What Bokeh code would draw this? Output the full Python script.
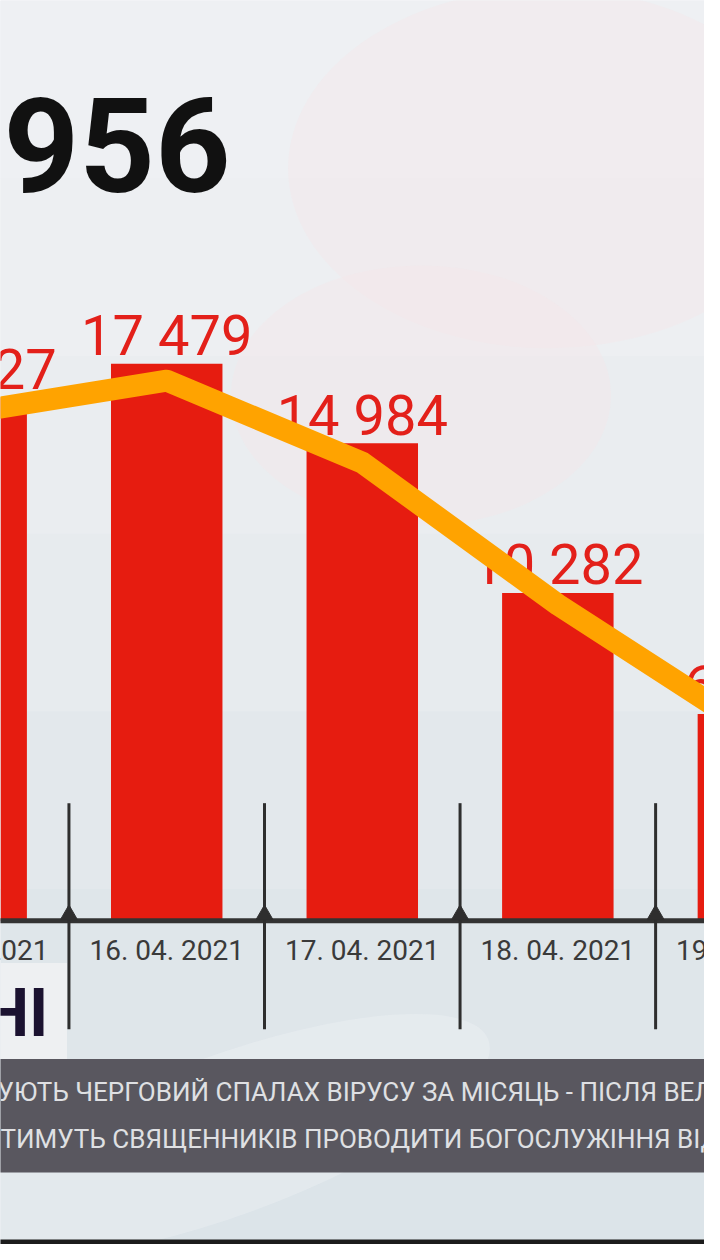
from bokeh.plotting import figure
from bokeh.models import Range1d
from bokeh.core.properties import value
from bokeh.embed import file_html
from bokeh.resources import INLINE

# ---- data ----
dates = ["15. 04. 2021", "16. 04. 2021", "17. 04. 2021", "18. 04. 2021", "19. 04. 2021"]
cases = [16427, 17479, 14984, 10282, 6490]
case_labels = ["16 427", "17 479", "14 984", "10 282", "6 490"]
trend = [15960, 16950, 14380, 9920, 5950]
headline = ["956"]
logo = ["НІ"]
ticker = ["УЮТЬ ЧЕРГОВИЙ СПАЛАХ ВІРУСУ ЗА МІСЯЦЬ - ПІСЛЯ ВЕЛИКОДНЯ",
          "ТИМУТЬ СВЯЩЕННИКІВ ПРОВОДИТИ БОГОСЛУЖІННЯ ВІДДАЛЕНО"]

idx = list(range(len(dates)))

# ---- layout helpers (reference pixel -> data) ----
K = 17479 / 564.0
def X(px):
    return (px + 30) / 200.0
def Y(py):
    return (932 - py) * K

W, H = 704, 1244
FONT = "Roboto"

p = figure(width=W, height=H, output_backend="svg", toolbar_location=None,
           x_range=Range1d(X(0), X(720)), y_range=Range1d(Y(1260), Y(0)),
           min_border=0, background_fill_color="#e7ebef", border_fill_color="#e7ebef")
p.outline_line_color = None
p.axis.visible = False
p.grid.visible = False

# soft background wash
bands = ["#eef0f3", "#edeff2", "#eaedf0", "#e7ebee", "#e3e8ec", "#dfe6ea", "#dce4e9"]
step = 1260 / len(bands)
for i, c in enumerate(bands):
    p.quad(left=X(-20), right=X(740), top=Y(i * step), bottom=Y((i + 1) * step + 1),
           fill_color=c, line_color=None)
p.ellipse(x=[X(560), X(430)], y=[Y(170), Y(400)], width=[520, 380], height=[360, 260],
          width_units="screen", height_units="screen",
          fill_color="#f4e6e9", fill_alpha=0.4, line_color=None)
p.ellipse(x=[X(230)], y=[Y(1150)], width=[560], height=[160],
          width_units="screen", height_units="screen",
          fill_color="#f1f4f6", fill_alpha=0.35, line_color=None, angle=0.35)

# bars
p.vbar(x=idx, top=cases, bottom=0, width=0.57, fill_color="#e61c10", line_color=None)

# value labels (centre of digits ~28px above bar top)
p.text(x=idx, y=[c + 28 * K for c in cases], text=case_labels,
       text_align="center", text_baseline="middle",
       text_font=value(FONT), text_font_size="56px", text_color="#e3201a")

# trend line
p.line(x=idx, y=trend, line_width=22, line_color="#ffa300", line_join="round")

# baseline axis
p.segment(x0=[X(-20)], y0=[0], x1=[X(740)], y1=[0], line_width=5, line_color="#333333")

# separators
sep_x = [i + 0.5 for i in idx[:-1]]
p.segment(x0=sep_x, y0=[Y(813)] * len(sep_x), x1=sep_x, y1=[Y(1042)] * len(sep_x),
          line_width=3, line_color="#2e2e2e")
p.scatter(x=sep_x, y=[Y(926)] * len(sep_x), marker="triangle", size=17,
          fill_color="#2e2e2e", line_color="#2e2e2e")

# date labels
p.text(x=idx, y=[Y(962)] * len(idx), text=dates, text_align="center", text_baseline="middle",
       text_font=value(FONT), text_font_size="28px", text_color="#3a3a3a")

# headline number
p.text(x=[X(3)], y=[Y(146)], text=headline, text_align="left", text_baseline="middle",
       text_font=value(FONT), text_font_style="bold",
       text_font_size="132px", text_color="#111111")

# logo box
p.quad(left=X(-20), right=X(68), top=Y(975), bottom=Y(1072),
       fill_color="#eef0f2", line_color=None)
p.text(x=[X(49)], y=[Y(1026)], text=logo, text_align="right", text_baseline="middle",
       text_font=value(FONT), text_font_style="bold",
       text_font_size="66px", text_color="#1b1230")

# ticker band
p.quad(left=X(-20), right=X(740), top=Y(1072), bottom=Y(1187),
       fill_color="#59575f", line_color=None)
p.text(x=[X(-3), X(0)], y=[Y(1106), Y(1153)], text=ticker, text_align="left",
       text_baseline="middle", text_font=value(FONT),
       text_font_size="26px", text_color="#dfe0e3")

# bottom strip
p.quad(left=X(-20), right=X(740), top=Y(1255), bottom=Y(1270),
       fill_color="#1c1c1c", line_color=None)

open("out.html", "w").write(file_html(p, INLINE))
